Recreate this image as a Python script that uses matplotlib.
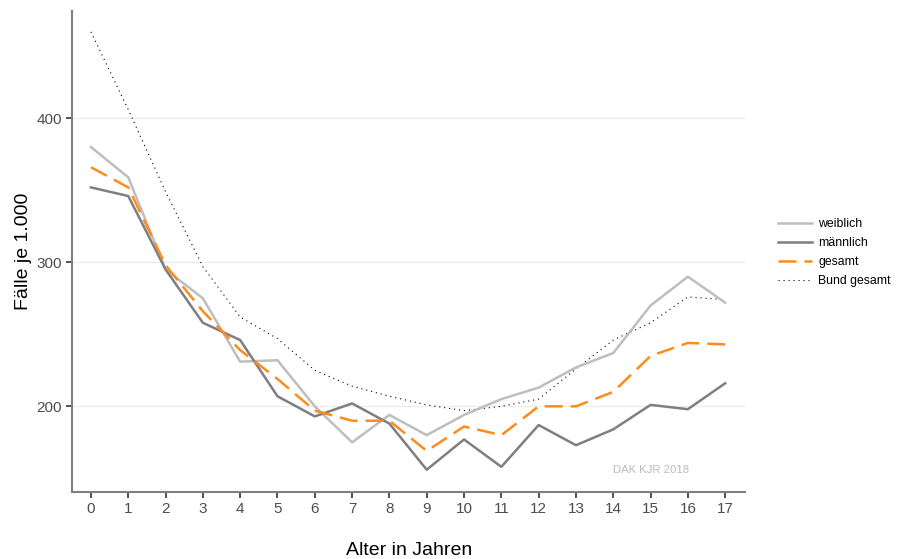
import matplotlib
matplotlib.use("Agg")
import matplotlib.pyplot as plt

plt.rcParams["font.family"] = ["Liberation Sans", "DejaVu Sans"]

# ============================================================
# DATA (Fälle je 1.000 nach Alter)
# ============================================================
alter = list(range(18))
weiblich = [380, 359, 295, 275, 231, 232, 200, 175, 194, 180, 194, 205, 213, 227, 237, 270, 290, 272]
maennlich = [352, 346, 295, 258, 246, 207, 193, 202, 188, 156, 177, 158, 187, 173, 184, 201, 198, 216]
gesamt = [366, 352, 298, 266, 239, 219, 197, 190, 190, 169, 186, 180, 200, 200, 210, 235, 244, 243]
bund = [460, 406, 349, 297, 262, 247, 225, 214, 207, 201, 197, 200, 205, 226, 246, 258, 276, 274]

fig = plt.figure(figsize=(8.97, 5.59), dpi=100)
ax = fig.add_axes([0.0806, 0.1193, 0.8305 - 0.0806, 0.9809 - 0.1193])

ax.plot(alter, weiblich, color="#BEBEBE", linewidth=1.8, label="weiblich", zorder=3)
ax.plot(alter, maennlich, color="#7F7F7F", linewidth=1.8, label="männlich", zorder=3)
ax.plot(alter, gesamt, color="#FF8C1A", linewidth=1.8, linestyle=(0, (7.2, 3.2)),
        label="gesamt", zorder=4)
ax.plot(alter, bund, color="black", linewidth=0.8, linestyle=(0, (1, 3.5)),
        label="Bund gesamt", zorder=2)

ax.text(15, 156, "DAK KJR 2018", color="#BBBBBB", fontsize=8.1, ha="center", va="center")

ax.set_xlim(-0.5, 17.53)
ax.set_ylim(140.3, 474.7)
ax.set_xticks(alter)
ax.set_yticks([200, 300, 400])
ax.grid(axis="y", color="#EBEBEB", linewidth=0.8)
ax.set_axisbelow(True)

for s in ["top", "right"]:
    ax.spines[s].set_visible(False)
for s in ["left", "bottom"]:
    ax.spines[s].set_color("#7F7F7F")
    ax.spines[s].set_linewidth(1.5)

ax.tick_params(axis="both", colors="#333333", length=4, width=1.2,
               labelsize=11, labelcolor="#4D4D4D")
ax.tick_params(axis="x", pad=3)

ax.set_xlabel("Alter in Jahren", fontsize=14, color="black", labelpad=19)
ax.set_ylabel("Fälle je 1.000", fontsize=14, color="black", labelpad=3)

fig.legend(loc="center left", bbox_to_anchor=(778 / 897, 0.548), frameon=False,
           fontsize=8.8, handlelength=2.8, handletextpad=0.5, labelspacing=0.56,
           borderpad=0, borderaxespad=0)

plt.savefig("out.png", dpi=100)
